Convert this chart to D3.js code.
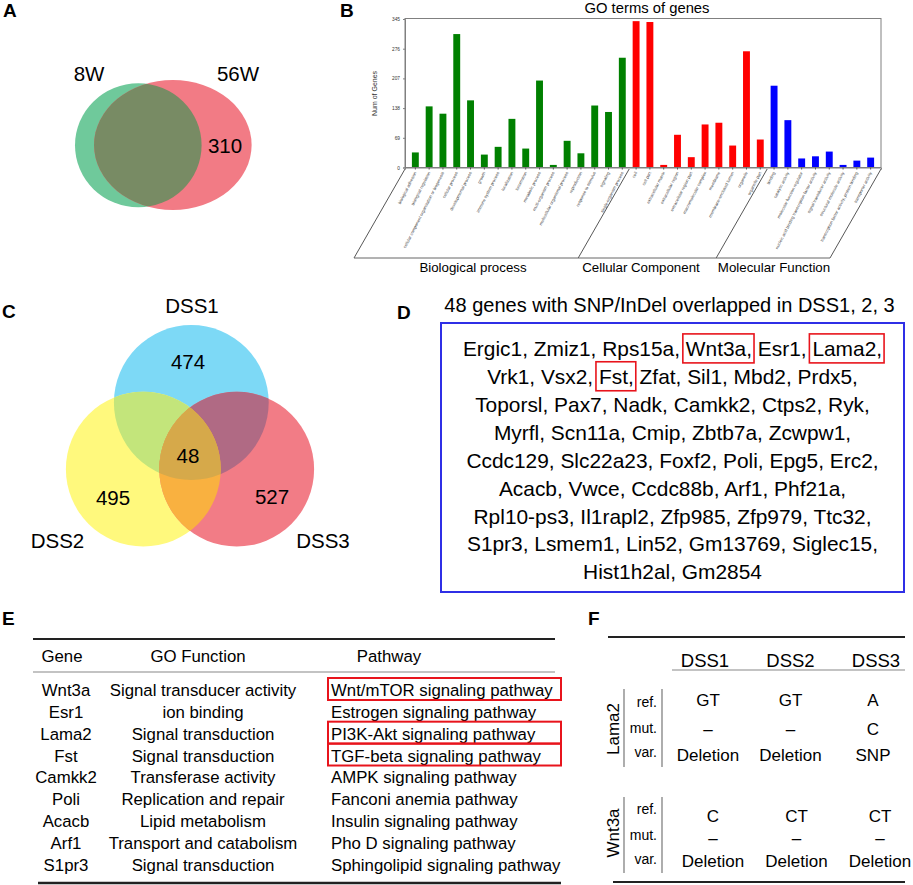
<!DOCTYPE html>
<html>
<head>
<meta charset="utf-8">
<script src="https://cdn.jsdelivr.net/npm/d3@7"></script>
<style>
  body { margin: 0; background: #fff; }
  text { font-family: "Liberation Sans", Arial, sans-serif; }
</style>
</head>
<body>
<div id="fig"></div>
<script>
// ---- data ----
const vennASets = ["8W", "56W"];
const vennAOnly56W = 310;

const bpTerms = ["biological adhesion", "biological regulation",
  "cellular component organization or biogenesis", "cellular process",
  "developmental process", "growth", "immune system process", "localization",
  "locomotion", "metabolic process", "multi-organism process",
  "multicellular organismal process", "reproduction", "response to stimulus",
  "signaling", "single-organism process"];
const bpCounts = [35, 142, 125, 310, 156, 30, 48, 113, 44, 202, 6, 62, 33, 144, 129, 255];

const ccTerms = ["cell", "cell part", "extracellular matrix", "extracellular region",
  "extracellular region part", "macromolecular complex", "membrane",
  "membrane-enclosed lumen", "organelle", "organelle part"];
const ccCounts = [340, 338, 6, 76, 24, 100, 104, 51, 270, 65];

const mfTerms = ["binding", "catalytic activity", "molecular function regulator",
  "nucleic acid binding transcription factor activity", "signal transducer activity",
  "structural molecule activity", "transcription factor activity, protein binding",
  "transporter activity"];
const mfCounts = [190, 110, 21, 26, 37, 6, 16, 23];

const goTicks = [0, 69, 138, 207, 276, 345];
const goGroups = ["Biological process", "Cellular Component", "Molecular Function"];

const vennCSets = ["DSS1", "DSS2", "DSS3"];
const vennCOnly = [474, 495, 527];
const vennCAll = 48;

const overlapGenes = ["Ergic1", "Zmiz1", "Rps15a", "Wnt3a", "Esr1", "Lama2",
  "Vrk1", "Vsx2", "Fst", "Zfat", "Sil1", "Mbd2", "Prdx5",
  "Toporsl", "Pax7", "Nadk", "Camkk2", "Ctps2", "Ryk",
  "Myrfl", "Scn11a", "Cmip", "Zbtb7a", "Zcwpw1",
  "Ccdc129", "Slc22a23", "Foxf2", "Poli", "Epg5", "Erc2",
  "Acacb", "Vwce", "Ccdc88b", "Arf1", "Phf21a",
  "Rpl10-ps3", "Il1rapl2", "Zfp985", "Zfp979", "Ttc32",
  "S1pr3", "Lsmem1", "Lin52", "Gm13769", "Siglec15",
  "Hist1h2al", "Gm2854"];
const genesPerLine = [6, 7, 6, 5, 6, 5, 5, 5, 2];
const markedGenes = ["Wnt3a", "Lama2", "Fst"];

const tableGenes = ["Wnt3a", "Esr1", "Lama2", "Fst", "Camkk2", "Poli", "Acacb", "Arf1", "S1pr3"];
const tableFunctions = ["Signal transducer activity", "ion binding", "Signal transduction",
  "Signal transduction", "Transferase activity", "Replication and repair",
  "Lipid metabolism", "Transport and catabolism", "Signal transduction"];
const tablePathways = ["Wnt/mTOR signaling pathway", "Estrogen signaling pathway",
  "PI3K-Akt signaling pathway", "TGF-beta signaling pathway", "AMPK signaling pathway",
  "Fanconi anemia pathway", "Insulin signaling pathway", "Pho D signaling pathway",
  "Sphingolipid signaling pathway"];
const markedPathways = ["Wnt/mTOR signaling pathway", "PI3K-Akt signaling pathway",
  "TGF-beta signaling pathway"];

const fSamples = ["DSS1", "DSS2", "DSS3"];
const fRowNames = ["ref.", "mut.", "var."];
const lama2Ref = ["GT", "GT", "A"];
const lama2Mut = ["\u2013", "\u2013", "C"];
const lama2Var = ["Deletion", "Deletion", "SNP"];
const wnt3aRef = ["C", "CT", "CT"];
const wnt3aMut = ["\u2013", "\u2013", "\u2013"];
const wnt3aVar = ["Deletion", "Deletion", "Deletion"];

// ---- svg ----
const W = 913, H = 885;
const svg = d3.select("#fig").append("svg")
  .attr("width", W)
  .attr("height", H);
const defs = svg.append("defs");

function panelLetter(letter, x, y) {
  svg.append("text")
    .attr("x", x)
    .attr("y", y)
    .attr("font-size", 19)
    .attr("font-weight", "bold")
    .text(letter);
}

// ---- A: two-set venn ----
panelLetter("A", 3, 17);

const ellA8 = { cx: 138.3, cy: 145.3, rx: 63.3, ry: 62 };
const ellA56 = { cx: 172.8, cy: 145, rx: 78.8, ry: 65 };

defs.append("clipPath").attr("id", "clipA56")
  .append("ellipse")
  .attr("cx", ellA56.cx).attr("cy", ellA56.cy)
  .attr("rx", ellA56.rx).attr("ry", ellA56.ry);

svg.append("ellipse")
  .attr("cx", ellA8.cx).attr("cy", ellA8.cy)
  .attr("rx", ellA8.rx).attr("ry", ellA8.ry)
  .attr("fill", "#6fc99b");
svg.append("ellipse")
  .attr("cx", ellA56.cx).attr("cy", ellA56.cy)
  .attr("rx", ellA56.rx).attr("ry", ellA56.ry)
  .attr("fill", "#f27b85");
svg.append("ellipse")
  .attr("clip-path", "url(#clipA56)")
  .attr("cx", ellA8.cx).attr("cy", ellA8.cy)
  .attr("rx", ellA8.rx).attr("ry", ellA8.ry)
  .attr("fill", "#788b64");

svg.append("text").attr("x", 89).attr("y", 81)
  .attr("text-anchor", "middle").attr("font-size", 20.5).text(vennASets[0]);
svg.append("text").attr("x", 238).attr("y", 81)
  .attr("text-anchor", "middle").attr("font-size", 20.5).text(vennASets[1]);
svg.append("text").attr("x", 225).attr("y", 153)
  .attr("text-anchor", "middle").attr("font-size", 20.5).text(vennAOnly56W);

// ---- B: GO bar chart ----
panelLetter("B", 340, 17);

const allTerms = bpTerms.concat(ccTerms, mfTerms);
const allCounts = bpCounts.concat(ccCounts, mfCounts);
const termGroup = t => bpTerms.includes(t) ? 0 : ccTerms.includes(t) ? 1 : 2;
const groupColor = ["#008000", "#ff0000", "#0000ff"];

const bLeft = 405, bRight = 881, bTop = 18.5, bBottom = 167.5;
const bx = d3.scaleBand()
  .domain(allTerms)
  .range([bLeft, bRight])
  .paddingInner(0.5)
  .paddingOuter(0.5);
const by = d3.scaleLinear()
  .domain([0, 345])
  .range([bBottom, 19]);

const gB = svg.append("g");

gB.selectAll("rect.bar")
  .data(allTerms)
  .join("rect")
  .attr("class", "bar")
  .attr("x", d => bx(d))
  .attr("y", (d, i) => by(allCounts[i]))
  .attr("width", bx.bandwidth())
  .attr("height", (d, i) => by(0) - by(allCounts[i]))
  .attr("fill", d => groupColor[termGroup(d)]);

gB.append("rect")
  .attr("x", bLeft)
  .attr("y", bTop)
  .attr("width", bRight - bLeft)
  .attr("height", bBottom - bTop)
  .attr("fill", "none")
  .attr("stroke", "#808080")
  .attr("stroke-width", 1);

const yAxisB = gB.append("g")
  .attr("transform", `translate(${bLeft},0)`)
  .call(d3.axisLeft(by).tickValues(goTicks).tickSize(2).tickPadding(3));
yAxisB.select(".domain").attr("stroke", "#808080");
yAxisB.selectAll(".tick line").attr("stroke", "#808080");
yAxisB.selectAll("text")
  .attr("font-size", 4.8)
  .attr("font-family", "Liberation Sans, Arial, sans-serif")
  .attr("fill", "#333");

const xAxisB = gB.append("g")
  .attr("transform", `translate(0,${bBottom})`)
  .call(d3.axisBottom(bx).tickSize(2).tickFormat(""));
xAxisB.select(".domain").attr("stroke", "#808080");
xAxisB.selectAll(".tick line").attr("stroke", "#555");

gB.selectAll("text.term")
  .data(allTerms)
  .join("text")
  .attr("class", "term")
  .attr("transform", d => `translate(${bx(d) + bx.bandwidth() / 2},172) rotate(-63)`)
  .attr("text-anchor", "end")
  .attr("dy", "0.35em")
  .attr("font-size", 4.2)
  .attr("fill", "#333")
  .text(d => d);

gB.append("text")
  .attr("transform", "translate(377,93.5) rotate(-90)")
  .attr("text-anchor", "middle")
  .attr("font-size", 7)
  .attr("fill", "#333")
  .text("Num of Genes");

gB.append("text")
  .attr("x", 647)
  .attr("y", 13)
  .attr("text-anchor", "middle")
  .attr("font-size", 14.8)
  .text("GO terms of genes");

// group separators under the axis
const boundary = first => {
  const prev = allTerms[allTerms.indexOf(first) - 1];
  return (bx(prev) + bx.bandwidth() + bx(first)) / 2;
};
const sepX = [bLeft, boundary(ccTerms[0]), boundary(mfTerms[0]), bRight];
const slant = -51, sepTop = 169, sepBottom = 258;
sepX.forEach(x => {
  gB.append("line")
    .attr("x1", x).attr("y1", sepTop)
    .attr("x2", x + slant).attr("y2", sepBottom)
    .attr("stroke", "#444")
    .attr("stroke-width", 0.9);
});
gB.append("line")
  .attr("x1", sepX[0] + slant).attr("y1", sepBottom)
  .attr("x2", sepX[3] + slant).attr("y2", sepBottom)
  .attr("stroke", "#666")
  .attr("stroke-width", 1);

const groupLabelX = [473, 641, 774];
goGroups.forEach((g, i) => {
  gB.append("text")
    .attr("x", groupLabelX[i])
    .attr("y", 272)
    .attr("text-anchor", "middle")
    .attr("font-size", 13.3)
    .text(g);
});

// ---- C: three-set venn ----
panelLetter("C", 2, 318);

const rC = 77.4;
const circC = [
  { cx: 191.3, cy: 402.5, fill: "#7dd9f6" },
  { cx: 143.3, cy: 469.2, fill: "#fff97d" },
  { cx: 236.7, cy: 469.2, fill: "#f27c86" }
];
circC.forEach((c, i) => {
  defs.append("clipPath").attr("id", "clipC" + i)
    .append("circle").attr("cx", c.cx).attr("cy", c.cy).attr("r", rC);
});
const gC = svg.append("g");
function circleC(parent, i, fill, clip) {
  const el = parent.append("circle")
    .attr("cx", circC[i].cx).attr("cy", circC[i].cy).attr("r", rC)
    .attr("fill", fill);
  if (clip !== undefined) el.attr("clip-path", `url(#clipC${clip})`);
  return el;
}
circC.forEach((c, i) => circleC(gC, i, c.fill));
circleC(gC, 1, "#c3e57b", 0);   // DSS1 & DSS2
circleC(gC, 2, "#b06a84", 0);   // DSS1 & DSS3
circleC(gC, 2, "#f9b140", 1);   // DSS2 & DSS3
circleC(gC.append("g").attr("clip-path", "url(#clipC0)"), 2, "#d6a94a", 1);

const cFont = 20.5;
svg.append("text").attr("x", 192).attr("y", 313).attr("text-anchor", "middle")
  .attr("font-size", cFont).text(vennCSets[0]);
svg.append("text").attr("x", 57.5).attr("y", 548).attr("text-anchor", "middle")
  .attr("font-size", cFont).text(vennCSets[1]);
svg.append("text").attr("x", 323).attr("y", 548).attr("text-anchor", "middle")
  .attr("font-size", cFont).text(vennCSets[2]);
svg.append("text").attr("x", 188).attr("y", 369).attr("text-anchor", "middle")
  .attr("font-size", cFont).text(vennCOnly[0]);
svg.append("text").attr("x", 113).attr("y", 505).attr("text-anchor", "middle")
  .attr("font-size", cFont).text(vennCOnly[1]);
svg.append("text").attr("x", 272).attr("y", 504).attr("text-anchor", "middle")
  .attr("font-size", cFont).text(vennCOnly[2]);
svg.append("text").attr("x", 188).attr("y", 463).attr("text-anchor", "middle")
  .attr("font-size", cFont).text(vennCAll);

// ---- D: gene list ----
panelLetter("D", 397, 319);

svg.append("text")
  .attr("x", 669.5)
  .attr("y", 312)
  .attr("text-anchor", "middle")
  .attr("font-size", 20)
  .text("48 genes with SNP/InDel overlapped in DSS1, 2, 3");

svg.append("rect")
  .attr("x", 441).attr("y", 323)
  .attr("width", 463).attr("height", 269)
  .attr("fill", "none")
  .attr("stroke", "#2f2fe6")
  .attr("stroke-width", 2);

const lineY = d3.scaleLinear()
  .domain([0, genesPerLine.length - 1])
  .range([356.4, 579.3]);
let gi = 0;
genesPerLine.forEach((n, li) => {
  const words = overlapGenes.slice(gi, gi + n);
  const last = gi + n === overlapGenes.length;
  gi += n;
  const tokens = words.map((w, i) => (last && i === n - 1) ? w : w + ",");
  const t = svg.append("text")
    .attr("x", 672.5)
    .attr("y", lineY(li))
    .attr("text-anchor", "middle")
    .attr("font-size", 20.9)
    .text(tokens.join(" "));
  let pos = 0;
  tokens.forEach((tok, i) => {
    if (markedGenes.includes(words[i])) {
      const x0 = t.node().getStartPositionOfChar(pos).x;
      const x1 = t.node().getEndPositionOfChar(pos + tok.length - 1).x;
      svg.append("rect")
        .attr("x", x0 - 3)
        .attr("y", lineY(li) - 22.5)
        .attr("width", x1 - x0 + 5)
        .attr("height", 29)
        .attr("fill", "none")
        .attr("stroke", "#e8141c")
        .attr("stroke-width", 1.6);
    }
    pos += tok.length + 1;
  });
});

// ---- E: gene table ----
panelLetter("E", 2, 625);

const eFont = 16.8;
const rowY = d3.scaleLinear().domain([0, tableGenes.length - 1]).range([696, 870.7]);

svg.append("line").attr("x1", 33).attr("x2", 555).attr("y1", 639).attr("y2", 639)
  .attr("stroke", "#222").attr("stroke-width", 2);
svg.append("line").attr("x1", 33).attr("x2", 555).attr("y1", 672).attr("y2", 672)
  .attr("stroke", "#888").attr("stroke-width", 1.2);
svg.append("line").attr("x1", 38).attr("x2", 561).attr("y1", 883).attr("y2", 883)
  .attr("stroke", "#222").attr("stroke-width", 2.4);

svg.append("text").attr("x", 62).attr("y", 662).attr("text-anchor", "middle")
  .attr("font-size", eFont).text("Gene");
svg.append("text").attr("x", 198).attr("y", 662).attr("text-anchor", "middle")
  .attr("font-size", eFont).text("GO Function");
svg.append("text").attr("x", 389).attr("y", 662).attr("text-anchor", "middle")
  .attr("font-size", eFont).text("Pathway");

svg.selectAll("text.egene")
  .data(tableGenes)
  .join("text")
  .attr("class", "egene")
  .attr("x", 66)
  .attr("y", (d, i) => rowY(i))
  .attr("text-anchor", "middle")
  .attr("font-size", eFont)
  .text(d => d);

svg.selectAll("text.efunc")
  .data(tableFunctions)
  .join("text")
  .attr("class", "efunc")
  .attr("x", 203)
  .attr("y", (d, i) => rowY(i))
  .attr("text-anchor", "middle")
  .attr("font-size", eFont)
  .text(d => d);

svg.selectAll("text.epath")
  .data(tablePathways)
  .join("text")
  .attr("class", "epath")
  .attr("x", 331)
  .attr("y", (d, i) => rowY(i))
  .attr("font-size", eFont)
  .text(d => d);

svg.selectAll("rect.epath")
  .data(tablePathways.filter(p => markedPathways.includes(p)))
  .join("rect")
  .attr("class", "epath")
  .attr("x", 328)
  .attr("y", d => rowY(tablePathways.indexOf(d)) - 18)
  .attr("width", 233)
  .attr("height", 22)
  .attr("fill", "none")
  .attr("stroke", "#e8141c")
  .attr("stroke-width", 2);

// ---- F: variant table ----
panelLetter("F", 588, 625);

svg.append("line").attr("x1", 608).attr("x2", 905).attr("y1", 637).attr("y2", 637)
  .attr("stroke", "#222").attr("stroke-width", 2);
svg.append("line").attr("x1", 672).attr("x2", 905).attr("y1", 670).attr("y2", 670)
  .attr("stroke", "#888").attr("stroke-width", 1.2);
svg.append("line").attr("x1", 613).attr("x2", 905).attr("y1", 882).attr("y2", 882)
  .attr("stroke", "#222").attr("stroke-width", 2);

const fHead = d3.scalePoint().domain(fSamples).range([705, 876]);
svg.selectAll("text.fhead")
  .data(fSamples)
  .join("text")
  .attr("class", "fhead")
  .attr("x", d => fHead(d))
  .attr("y", 667)
  .attr("text-anchor", "middle")
  .attr("font-size", 18.5)
  .text(d => d);

const fGroups = [
  { gene: "Lama2", rows: [lama2Ref, lama2Mut, lama2Var], labelCy: 729,
    lineY: [689, 767], labelY: [707, 733, 757], valueY: [706, 735, 761], colRange: [708, 873] },
  { gene: "Wnt3a", rows: [wnt3aRef, wnt3aMut, wnt3aVar], labelCy: 833,
    lineY: [797, 873], labelY: [814, 840, 864], valueY: [822, 844, 867], colRange: [713, 880] }
];

fGroups.forEach(g => {
  svg.append("text")
    .attr("transform", `translate(619,${g.labelCy}) rotate(-90)`)
    .attr("text-anchor", "middle")
    .attr("font-size", 17)
    .text(g.gene);
  [624, 662].forEach(x => {
    svg.append("line")
      .attr("x1", x).attr("x2", x)
      .attr("y1", g.lineY[0]).attr("y2", g.lineY[1])
      .attr("stroke", "#777").attr("stroke-width", 1.2);
  });
  fRowNames.forEach((r, i) => {
    svg.append("text")
      .attr("x", 657)
      .attr("y", g.labelY[i])
      .attr("text-anchor", "end")
      .attr("font-size", 14)
      .text(r);
  });
  const col = d3.scalePoint().domain(fSamples).range(g.colRange);
  g.rows.forEach((vals, i) => {
    vals.forEach((v, j) => {
      svg.append("text")
        .attr("x", col(fSamples[j]))
        .attr("y", g.valueY[i])
        .attr("text-anchor", "middle")
        .attr("font-size", 17)
        .text(v);
    });
  });
});
</script>
</body>
</html>
